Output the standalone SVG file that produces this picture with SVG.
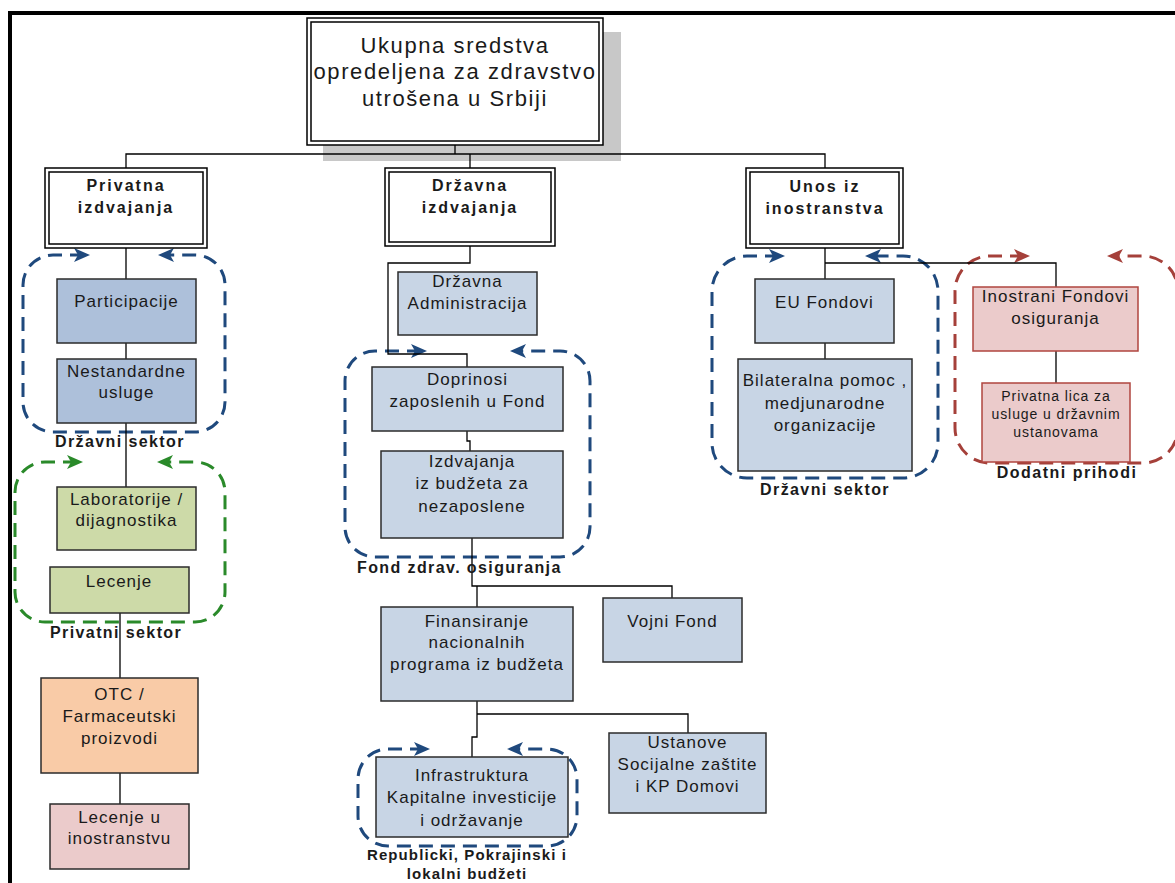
<svg xmlns="http://www.w3.org/2000/svg" width="1175" height="883" viewBox="0 0 1175 883">
<style>
text{font-family:"Liberation Sans",Arial,sans-serif;fill:#1a1a1a}
.t{font-size:17px;letter-spacing:1px;text-anchor:middle}
.ts{font-size:14px;letter-spacing:0.9px;text-anchor:middle}
.tt{font-size:22px;letter-spacing:1.6px;text-anchor:middle}
.h{font-size:16px;font-weight:bold;letter-spacing:2px;text-anchor:middle}
.lb{font-size:16px;font-weight:bold;letter-spacing:1.4px}
.lbs{font-size:15px;font-weight:bold;letter-spacing:1.1px;text-anchor:middle}
.box{stroke:#2b2b2b;stroke-width:1.5}
.blue{fill:#c8d5e5}
.dblue{fill:#adc0da}
.green{fill:#cddaa8}
.orange{fill:#f9cba7}
.pink{fill:#ebcbcb}
.pinkr{fill:#ebcbcb;stroke:#b0453f;stroke-width:1.5}
.dbl{fill:#fff;stroke:#000;stroke-width:1.5}
.conn{fill:none;stroke:#000;stroke-width:1.3}
.reg{fill:none;stroke-width:3;stroke-dasharray:14 8}
.rb{stroke:#1f497d}
.rg{stroke:#2a8a2a}
.rr{stroke:#a5403a}
.ab{fill:#1f497d}
.ag{fill:#2a8a2a}
.ar{fill:#a5403a}
</style>
<defs>
<path id="arw" d="M-16,-7 L0,0 L-16,7 L-12,0 Z"/>
</defs>
<rect width="1175" height="883" fill="#fff"/>
<g id="frame"><path d="M10,883 V13 H1175" fill="none" stroke="#000" stroke-width="4"/></g>
<rect id="shadow" x="323" y="32" width="298" height="129" fill="#c8c8c8"/>

<g id="regions">
<path class="reg rb" d="M84,255 H53 A30,30 0 0 0 23,285 V402 A30,30 0 0 0 53,432 H195 A30,30 0 0 0 225,402 V285 A30,30 0 0 0 195,255 H164"/>
<use href="#arw" class="ab" transform="translate(90,255)"/>
<use href="#arw" class="ab" transform="translate(158,255) scale(-1,1)"/>
<path class="reg rg" d="M77,462 H45 A30,30 0 0 0 15,492 V592 A30,30 0 0 0 45,622 H195 A30,30 0 0 0 225,592 V492 A30,30 0 0 0 195,462 H163"/>
<use href="#arw" class="ag" transform="translate(83,462)"/>
<use href="#arw" class="ag" transform="translate(157,462) scale(-1,1)"/>
<path class="reg rb" d="M421,351 H375 A30,30 0 0 0 345,381 V527 A30,30 0 0 0 375,557 H560 A30,30 0 0 0 590,527 V381 A30,30 0 0 0 560,351 H516"/>
<use href="#arw" class="ab" transform="translate(427,351)"/>
<use href="#arw" class="ab" transform="translate(510,351) scale(-1,1)"/>
<path class="reg rb" d="M424,749 H388 A30,30 0 0 0 358,779 V816 A30,30 0 0 0 388,846 H547 A30,30 0 0 0 577,816 V779 A30,30 0 0 0 547,749 H513"/>
<use href="#arw" class="ab" transform="translate(430,749)"/>
<use href="#arw" class="ab" transform="translate(507,749) scale(-1,1)"/>
<path class="reg rb" d="M779,256 H747 A35,35 0 0 0 712,291 V443 A35,35 0 0 0 747,478 H903 A35,35 0 0 0 938,443 V291 A35,35 0 0 0 903,256 H871"/>
<use href="#arw" class="ab" transform="translate(785,256)"/>
<use href="#arw" class="ab" transform="translate(865,256) scale(-1,1)"/>
<path class="reg rr" d="M1024,256 H990 A35,35 0 0 0 955,291 V428 A35,35 0 0 0 990,463 H1143 A35,35 0 0 0 1178,428 V291 A35,35 0 0 0 1143,256 H1113"/>
<use href="#arw" class="ar" transform="translate(1030,256)"/>
<use href="#arw" class="ar" transform="translate(1107,256) scale(-1,1)"/>
</g>

<g id="connectors" class="conn">
<path d="M455,145 V154"/>
<path d="M126,168 V154 H825 V168"/>
<path d="M470,154 V168"/>
<path d="M126,248 V279 M126,343 V359 M126,423 V487 M120,613 V678 M120,773 V804"/>
<path d="M470,246 V263 H388 V354 H467 V367"/>
<path d="M467,431 V441 H470 V451"/>
<path d="M472,538 V586 H672 V598"/>
<path d="M477,586 V607"/>
<path d="M477,701 V737 H472 V757"/>
<path d="M477,714 H688 V733"/>
<path d="M825,248 V279 M825,263 H1056 V287 M825,343 V359 M1056,351 V383"/>
</g>

<g id="top">
<rect class="dbl" x="307" y="18" width="296" height="127"/>
<rect class="dbl" x="311" y="22" width="288" height="119"/>
<text class="tt" x="455" y="53">Ukupna sredstva</text>
<text class="tt" x="455" y="79">opredeljena za zdravstvo</text>
<text class="tt" x="455" y="106">utrošena u Srbiji</text>
</g>

<g id="privatna">
<rect class="dbl" x="45" y="168" width="162" height="80"/>
<rect class="dbl" x="49" y="172" width="154" height="72"/>
<text class="h" x="126" y="191">Privatna</text>
<text class="h" x="126" y="213">izdvajanja</text>
</g>
<g id="drzavna">
<rect class="dbl" x="385" y="168" width="170" height="78"/>
<rect class="dbl" x="389" y="172" width="162" height="70"/>
<text class="h" x="470" y="191">Državna</text>
<text class="h" x="470" y="213">izdvajanja</text>
</g>
<g id="unos">
<rect class="dbl" x="746" y="168" width="157" height="80"/>
<rect class="dbl" x="750" y="172" width="149" height="72"/>
<text class="h" x="825" y="192">Unos iz</text>
<text class="h" x="825" y="214">inostranstva</text>
</g>

<g id="participacije"><rect class="box dblue" x="57" y="279" width="139" height="64"/><text class="t" x="126.5" y="307">Participacije</text></g>
<g id="nestandardne"><rect class="box dblue" x="57" y="359" width="139" height="64"/><text class="t" x="126.5" y="377">Nestandardne</text><text class="t" x="126.5" y="398">usluge</text></g>
<g id="laboratorije"><rect class="box green" x="57" y="487" width="139" height="63"/><text class="t" x="126.5" y="505">Laboratorije /</text><text class="t" x="126.5" y="526">dijagnostika</text></g>
<g id="lecenje"><rect class="box green" x="50" y="567" width="139" height="46"/><text class="t" x="119" y="587">Lecenje</text></g>
<g id="otc"><rect class="box orange" x="41" y="678" width="157" height="95"/><text class="t" x="119.5" y="700">OTC /</text><text class="t" x="119.5" y="722">Farmaceutski</text><text class="t" x="119.5" y="744">proizvodi</text></g>
<g id="lecenje-ino"><rect class="box pink" x="50" y="804" width="139" height="65"/><text class="t" x="119.5" y="823">Lecenje u</text><text class="t" x="119.5" y="844">inostranstvu</text></g>

<g id="administracija"><rect class="box blue" x="398" y="272" width="139" height="63"/><text class="t" x="467.5" y="287">Državna</text><text class="t" x="467.5" y="309">Administracija</text></g>
<g id="doprinosi"><rect class="box blue" x="372" y="367" width="191" height="64"/><text class="t" x="467.5" y="385">Doprinosi</text><text class="t" x="467.5" y="407">zaposlenih u Fond</text></g>
<g id="izdvajanja"><rect class="box blue" x="381" y="451" width="182" height="87"/><text class="t" x="472" y="467">Izdvajanja</text><text class="t" x="472" y="489">iz budžeta za</text><text class="t" x="472" y="512">nezaposlene</text></g>
<g id="finansiranje"><rect class="box blue" x="381" y="607" width="192" height="94"/><text class="t" x="477" y="627">Finansiranje</text><text class="t" x="477" y="648">nacionalnih</text><text class="t" x="477" y="670">programa iz budžeta</text></g>
<g id="vojni"><rect class="box blue" x="603" y="598" width="139" height="64"/><text class="t" x="672.5" y="627">Vojni Fond</text></g>
<g id="infrastruktura"><rect class="box blue" x="376" y="757" width="192" height="80"/><text class="t" x="472" y="781">Infrastruktura</text><text class="t" x="472" y="803">Kapitalne investicije</text><text class="t" x="472" y="826">i održavanje</text></g>
<g id="ustanove"><rect class="box blue" x="609" y="733" width="157" height="80"/><text class="t" x="687.5" y="748">Ustanove</text><text class="t" x="687.5" y="770">Socijalne zaštite</text><text class="t" x="687.5" y="792">i KP Domovi</text></g>

<g id="eu"><rect class="box blue" x="755" y="279" width="139" height="64"/><text class="t" x="824.5" y="308">EU Fondovi</text></g>
<g id="bilateralna"><rect class="box blue" x="738" y="359" width="174" height="112"/><text class="t" x="825" y="386">Bilateralna pomoc ,</text><text class="t" x="825" y="409">medjunarodne</text><text class="t" x="825" y="431">organizacije</text></g>
<g id="inostrani"><rect class="pinkr" x="973" y="287" width="165" height="64"/><text class="t" x="1055.5" y="302">Inostrani Fondovi</text><text class="t" x="1055.5" y="324">osiguranja</text></g>
<g id="privatna-lica"><rect class="pinkr" x="982" y="383" width="148" height="79"/><text class="ts" x="1056" y="401">Privatna lica za</text><text class="ts" x="1056" y="419">usluge u državnim</text><text class="ts" x="1056" y="437">ustanovama</text></g>

<g id="labels">
<text class="lb" x="55" y="447">Državni sektor</text>
<text class="lb" x="50" y="638">Privatni sektor</text>
<text class="lb" x="357" y="573">Fond zdrav. osiguranja</text>
<text class="lb" x="825" y="495" text-anchor="middle">Državni sektor</text>
<text class="lb" x="1067" y="478" text-anchor="middle" style="letter-spacing:1.5px">Dodatni prihodi</text>
<text class="lbs" x="467" y="860">Republicki, Pokrajinski i</text>
<text class="lbs" x="467" y="879">lokalni budžeti</text>
</g>
</svg>
